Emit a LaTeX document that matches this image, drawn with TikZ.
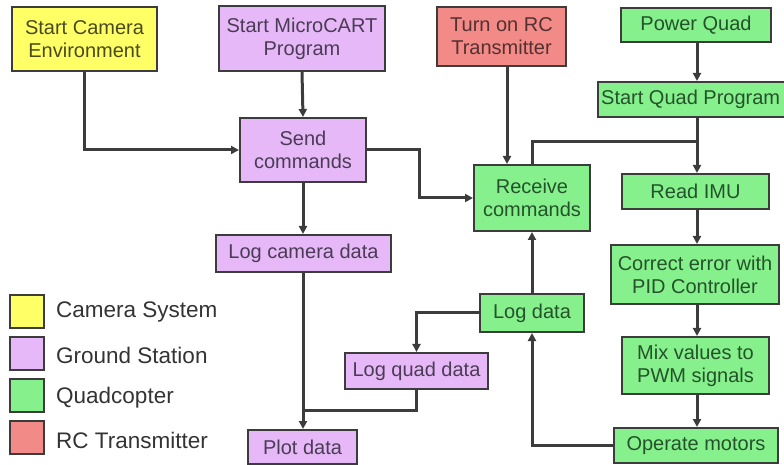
\documentclass[tikz,border=0pt]{standalone}
\usepackage{fontspec}
\setmainfont{Liberation Sans}
\usetikzlibrary{arrows.meta}
\definecolor{cyel}{HTML}{FFFF66}
\definecolor{cpur}{HTML}{E6B8F7}
\definecolor{cgrn}{HTML}{86F08C}
\definecolor{cred}{HTML}{F28A88}
\definecolor{cline}{HTML}{3C3C3C}
\definecolor{tgrn}{HTML}{24522A}
\definecolor{tpur}{HTML}{4A3C55}
\definecolor{tyel}{HTML}{4A4A20}
\definecolor{tred}{HTML}{553030}
\begin{document}
\begin{tikzpicture}[x=1bp,y=-1bp,
  box/.style={draw=cline,line width=2bp,rectangle,inner sep=0pt,align=center,
    font=\fontsize{20bp}{23bp}\selectfont},
  yel/.style={box,fill=cyel,text=tyel},
  pur/.style={box,fill=cpur,text=tpur},
  grn/.style={box,fill=cgrn,text=tgrn},
  red/.style={box,fill=cred,text=tred},
  sz/.style 2 args={minimum width=#1bp,minimum height=#2bp},
  conn/.style={draw=cline,line width=3bp},
  arr/.style={conn,-{Triangle[length=8bp,width=8bp]}},
  leg/.style={draw=cline,line width=2bp,minimum width=34bp,minimum height=33bp,inner sep=0pt},
  legt/.style={anchor=west,text=black!80,font=\fontsize{22.5bp}{26bp}\selectfont,inner sep=0pt}]
\useasboundingbox (0,0) rectangle (784,465);
\begin{scope}
\clip (0,0) rectangle (784,465);
% nodes
\node[yel,sz={145}{64}] (cam) at (84.5,39) {Start Camera\\Environment};
\node[pur,sz={166}{65}] (mc) at (302,38.5) {Start MicroCART\\Program};
\node[red,sz={129}{59}] (rc) at (501.5,36.5) {Turn on RC\\Transmitter};
\node[grn,sz={150}{34}] (pq) at (696,25) {Power Quad};
\node[grn,sz={210}{35},anchor=west] (sqp) at (597,99.5) {};
\node[anchor=west,inner sep=0pt,text=tgrn,font=\fontsize{20bp}{23bp}\selectfont] (sqpt) at (601,99.5) {Start Quad Program};
\node[pur,sz={126}{64}] (send) at (303,150) {Send\\commands};
\node[grn,sz={116}{66}] (recv) at (532,198) {Receive\\commands};
\node[grn,sz={147}{35}] (imu) at (695.5,191.5) {Read IMU};
\node[pur,sz={175}{37}] (lcam) at (303.5,253.5) {Log camera data};
\node[grn,sz={168}{59}] (pid) at (695,274.5) {Correct error with\\PID Controller};
\node[grn,sz={104}{38}] (ldata) at (532,313) {Log data};
\node[pur,sz={143}{36}] (lquad) at (416.5,371) {Log quad data};
\node[grn,sz={147}{57}] (mix) at (695.5,365.5) {Mix values to\\PWM signals};
\node[pur,sz={109}{34}] (plot) at (302.5,447) {Plot data};
\node[grn,sz={164}{35}] (op) at (696,445.5) {Operate motors};
% legend
\node[leg,fill=cyel] (l1) at (27,311.5) {};
\node[leg,fill=cpur] (l2) at (27,353.5) {};
\node[leg,fill=cgrn] (l3) at (27,395.5) {};
\node[leg,fill=cred] (l4) at (27,437.5) {};
\node[legt] (t1) at (56,312) {Camera System};
\node[legt] (t2) at (56,355) {Ground Station};
\node[legt] (t3) at (56,398) {Quadcopter};
\node[legt] (t4) at (56,440) {RC Transmitter};
% coordinates
\coordinate (j1) at (697,142);
\coordinate (j2) at (303,410);
% connectors
\draw[arr] (cam.south) |- (send.west);
\draw[arr] (mc.south) -- (send.north);
\draw[arr] (send.east) -- (419,150) |- (recv.west);
\draw[arr] (rc.south -| 507,0) -- (recv.north -| 507,0);
\draw[arr] (pq.south -| 697,0) -- (sqp.north -| 697,0);
\draw[arr] (sqp.south -| 697,0) -- (imu.north -| 697,0);
\draw[conn] (j1) -| (recv.north);
\draw[arr] (send.south) -- (lcam.north -| send.south);
\draw[arr] (lcam.south -| 303,0) -- (plot.north -| 303,0);
\draw[conn] (lquad.south) |- (j2);
\draw[arr] (ldata.west) -| (lquad.north);
\draw[arr] (ldata.north) -- (recv.south);
\draw[arr] (op.west) -| (ldata.south);
\draw[arr] (imu.south -| 697,0) -- (pid.north -| 697,0);
\draw[arr] (pid.south -| 697,0) -- (mix.north -| 697,0);
\draw[arr] (mix.south -| 697,0) -- (op.north -| 697,0);
\end{scope}
\end{tikzpicture}
\end{document}
